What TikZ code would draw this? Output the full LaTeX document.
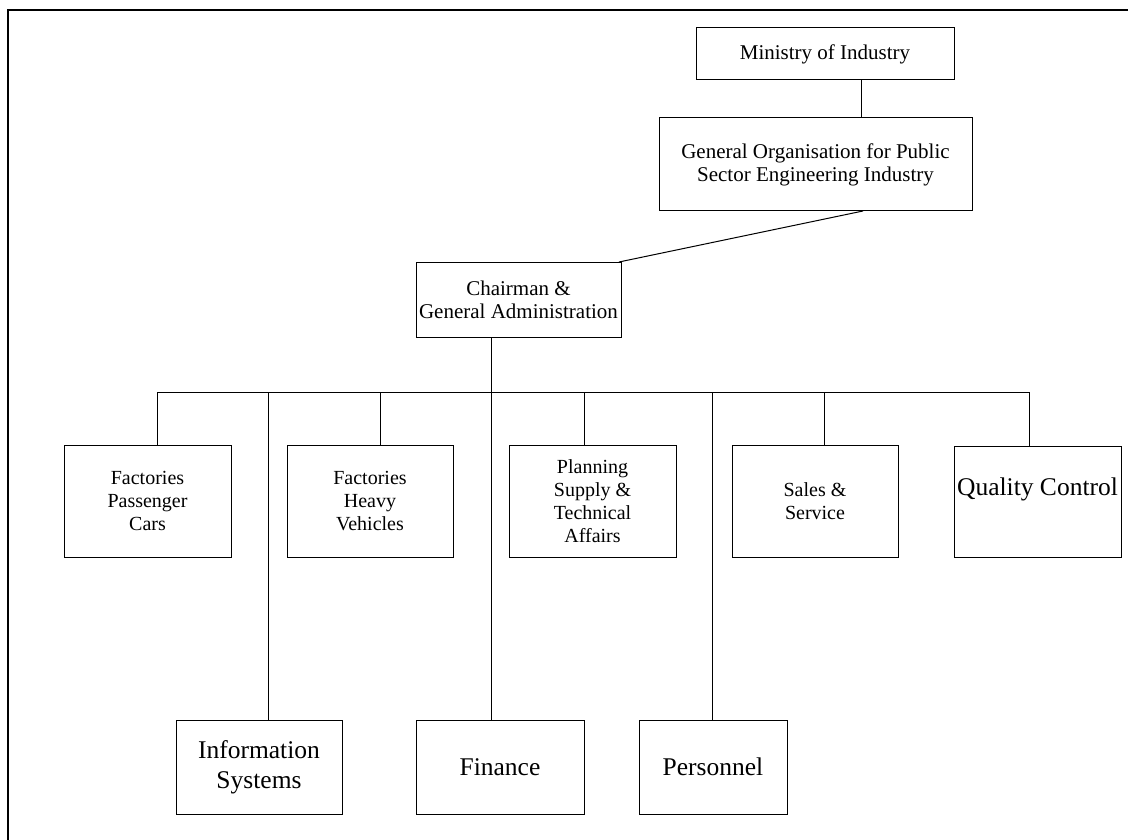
\documentclass[tikz,border=0pt]{standalone}
\usepackage{fontspec}
\setmainfont{Liberation Serif}
\begin{document}
\begin{tikzpicture}[x=1pt,y=-1pt,
  box/.style={draw, line width=1pt, inner sep=0pt, align=center, rectangle},
  fA/.style={font=\fontsize{21}{23}\selectfont},
  fB/.style={font=\fontsize{20}{23}\selectfont},
  fC/.style={font=\fontsize{25.5}{30}\selectfont},
  conn/.style={line width=1pt}
]
\useasboundingbox (0,0) rectangle (1128,840);
% partial frame
\draw[line width=2pt] (8,840) -- (8,10) -- (1128,10);

% upper hierarchy
\node[box,fA,minimum width=258,minimum height=52] (min) at (825,54) {Ministry of Industry};
\node[box,fA,minimum width=313,minimum height=93] (go) at (815.5,164.5) {General Organisation for Public\\Sector Engineering Industry};
\node[box,fA,minimum width=205,minimum height=75] (chair) at (518.5,299.5) {Chairman \&\\General Administration};

% top row
\node[box,fB,minimum width=167,minimum height=112] (fpc) at (147.5,501) {Factories\\Passenger\\Cars};
\node[box,fB,minimum width=166,minimum height=112] (fhv) at (370,501) {Factories\\Heavy\\Vehicles};
\node[box,fB,minimum width=167,minimum height=112] (plan) at (592.5,501) {Planning\\Supply \&\\Technical\\Affairs};
\node[box,fB,minimum width=166,minimum height=112] (sales) at (815,501) {Sales \&\\Service};
\node[box,fC,minimum width=167,minimum height=111,text depth=30pt] (qc) at (1037.5,501.5) {Quality Control};

% bottom row
\node[box,fC,minimum width=166,minimum height=94] (info) at (259,767) {Information\\Systems};
\node[box,fC,minimum width=168,minimum height=94] (fin) at (500,767) {Finance};
\node[box,fC,minimum width=148,minimum height=94] (pers) at (713,767) {Personnel};

% junction coordinates
\coordinate (mj) at (861,80);
\coordinate (gj) at (863,211);
\coordinate (cj) at (619,262);
\coordinate (cb) at (491,337);
\coordinate (b1) at (157,392);
\coordinate (b2) at (268,392);
\coordinate (b3) at (380,392);
\coordinate (b4) at (491,392);
\coordinate (b5) at (584,392);
\coordinate (b6) at (712,392);
\coordinate (b7) at (824,392);
\coordinate (b8) at (1029,392);

% connectors
\draw[conn] (mj) -- (mj |- go.north);
\draw[conn] (gj) -- (cj);
\draw[conn] (cb) -- (b4);
\draw[conn] (b1) -- (b8);
\draw[conn] (b1) -- (b1 |- fpc.north);
\draw[conn] (b3) -- (b3 |- fhv.north);
\draw[conn] (b5) -- (b5 |- plan.north);
\draw[conn] (b7) -- (b7 |- sales.north);
\draw[conn] (b8) -- (b8 |- qc.north);
\draw[conn] (b2) -- (b2 |- info.north);
\draw[conn] (b4) -- (b4 |- fin.north);
\draw[conn] (b6) -- (b6 |- pers.north);
\end{tikzpicture}
\end{document}
